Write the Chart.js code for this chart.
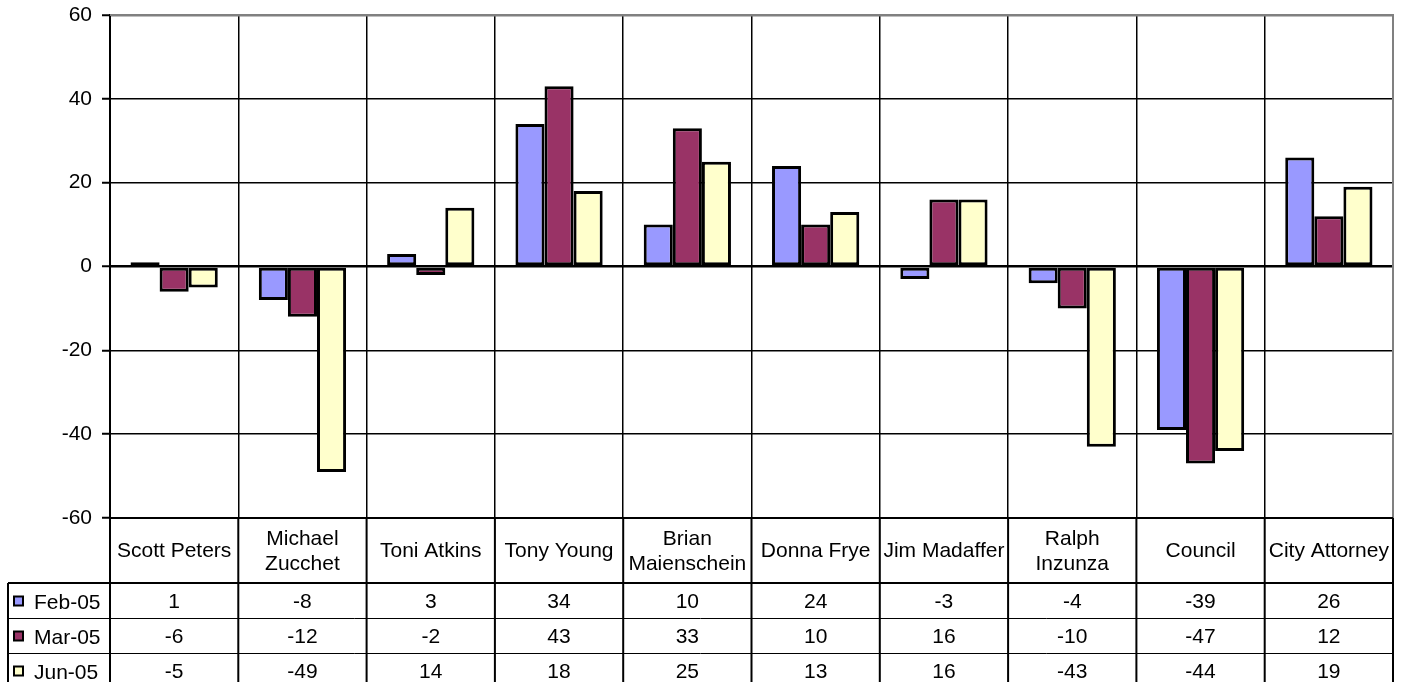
<!DOCTYPE html>
<html>
<head>
<meta charset="utf-8">
<script src="https://cdn.jsdelivr.net/npm/chart.js@4/dist/chart.umd.min.js"></script>
<style>
    html, body { margin: 0; padding: 0; background: #fff; }
    #wrap { width: 1403px; height: 682px; }
</style>
</head>
<body>
<div id="wrap"><canvas id="chart" width="1403" height="682"></canvas></div>
<script>
const categories = [
    ["Scott Peters"],
    ["Michael", "Zucchet"],
    ["Toni Atkins"],
    ["Tony Young"],
    ["Brian", "Maienschein"],
    ["Donna Frye"],
    ["Jim Madaffer"],
    ["Ralph", "Inzunza"],
    ["Council"],
    ["City Attorney"]
];
const seriesNames = ["Feb-05", "Mar-05", "Jun-05"];
const feb05 = [1, -8, 3, 34, 10, 24, -3, -4, -39, 26];
const mar05 = [-6, -12, -2, 43, 33, 10, 16, -10, -47, 12];
const jun05 = [-5, -49, 14, 18, 25, 13, 16, -43, -44, 19];
const colors = ["#9999FF", "#993366", "#FFFFCC"];

const fontFamily = "'Liberation Sans', Arial, sans-serif";
const fontSize = 21;

// draws the data table under the plot, lined up with the category axis
const dataTablePlugin = {
    id: "dataTable",
    afterDraw(chart) {
        const ctx = chart.ctx;
        const area = chart.chartArea;
        const xScale = chart.scales.x;
        const n = categories.length;
        const colW = (area.right - area.left) / n;
        const headerTop = area.bottom;
        const headerBottom = headerTop + 65;
        const rowH = 35;
        const tableLeft = 8;
        const values = [feb05, mar05, jun05];

        ctx.save();

        // right and top border of the plot area (grey)
        ctx.strokeStyle = "#808080";
        ctx.lineWidth = 2;
        ctx.beginPath();
        ctx.moveTo(area.left, area.top);
        ctx.lineTo(area.right, area.top);
        ctx.lineTo(area.right, area.bottom);
        ctx.stroke();

        ctx.strokeStyle = "#000";
        // header frame
        ctx.lineWidth = 2;
        ctx.beginPath();
        ctx.moveTo(area.left, headerTop);
        ctx.lineTo(area.right, headerTop);
        ctx.moveTo(tableLeft, headerBottom);
        ctx.lineTo(area.right, headerBottom);
        ctx.moveTo(tableLeft, headerBottom);
        ctx.lineTo(tableLeft, chart.height);
        for (let i = 0; i <= n; i++) {
            const x = area.left + i * colW;
            ctx.moveTo(x, headerTop);
            ctx.lineTo(x, chart.height);
        }
        ctx.stroke();

        // row lines
        ctx.lineWidth = 1;
        ctx.beginPath();
        for (let r = 1; r < seriesNames.length; r++) {
            const y = headerBottom + r * rowH + 0.5;
            ctx.moveTo(tableLeft, y);
            ctx.lineTo(area.right, y);
        }
        ctx.stroke();

        ctx.fillStyle = "#000";
        ctx.font = fontSize + "px " + fontFamily;
        ctx.textAlign = "center";
        ctx.textBaseline = "middle";

        // category labels
        categories.forEach((lines, i) => {
            const cx = xScale.getPixelForValue(i);
            const cy = (headerTop + headerBottom) / 2;
            const lh = 25;
            lines.forEach((line, k) => {
                const y = cy + (k - (lines.length - 1) / 2) * lh;
                ctx.fillText(line, cx, y + 1);
            });
        });

        // rows
        seriesNames.forEach((name, r) => {
            const cy = headerBottom + r * rowH + rowH / 2;
            ctx.fillStyle = colors[r];
            ctx.fillRect(14, cy - 4, 9, 9);
            ctx.strokeStyle = "#000";
            ctx.lineWidth = 2;
            ctx.strokeRect(14, cy - 4, 9, 9);
            ctx.fillStyle = "#000";
            ctx.textAlign = "left";
            ctx.fillText(name, 34, cy + 3);
            ctx.textAlign = "center";
            values[r].forEach((v, i) => {
                ctx.fillText(String(v), xScale.getPixelForValue(i), cy + 2);
            });
        });

        ctx.restore();
    }
};

const ctx = document.getElementById("chart").getContext("2d");
new Chart(ctx, {
    type: "bar",
    data: {
        labels: categories.map(c => c.join(" ")),
        datasets: [feb05, mar05, jun05].map((vals, i) => ({
            label: seriesNames[i],
            data: vals,
            backgroundColor: colors[i],
            borderColor: "#000",
            borderWidth: 3,
            borderSkipped: false,
            categoryPercentage: 0.68,
            barPercentage: 1
        }))
    },
    options: {
        responsive: false,
        animation: false,
        layout: { padding: { left: 0, top: 15, right: 10, bottom: 164 } },
        plugins: {
            legend: { display: false },
            tooltip: { enabled: false }
        },
        scales: {
            x: {
                ticks: { display: false },
                grid: { color: "#000", lineWidth: 1.5, offset: true, drawTicks: false },
                border: { display: true, color: "#000", width: 2 },
                afterFit(scale) { scale.height = 0; }
            },
            y: {
                min: -60,
                max: 60,
                ticks: {
                    stepSize: 20,
                    color: "#000",
                    padding: 10,
                    font: { family: fontFamily, size: fontSize }
                },
                grid: {
                    color: c => (c.tick && c.tick.value === 60) ? "#808080" : "#000",
                    lineWidth: c => (c.tick && (c.tick.value === 0 || c.tick.value === 60)) ? 2.5 : 1.5,
                    tickColor: "#000",
                    tickLength: 8,
                    tickWidth: 2
                },
                border: { display: true, color: "#000", width: 2 },
                afterFit(scale) {
                    scale.width = 110;
                    scale.paddingTop = 0;
                    scale.paddingBottom = 0;
                }
            }
        }
    },
    plugins: [dataTablePlugin]
});
</script>
</body>
</html>
